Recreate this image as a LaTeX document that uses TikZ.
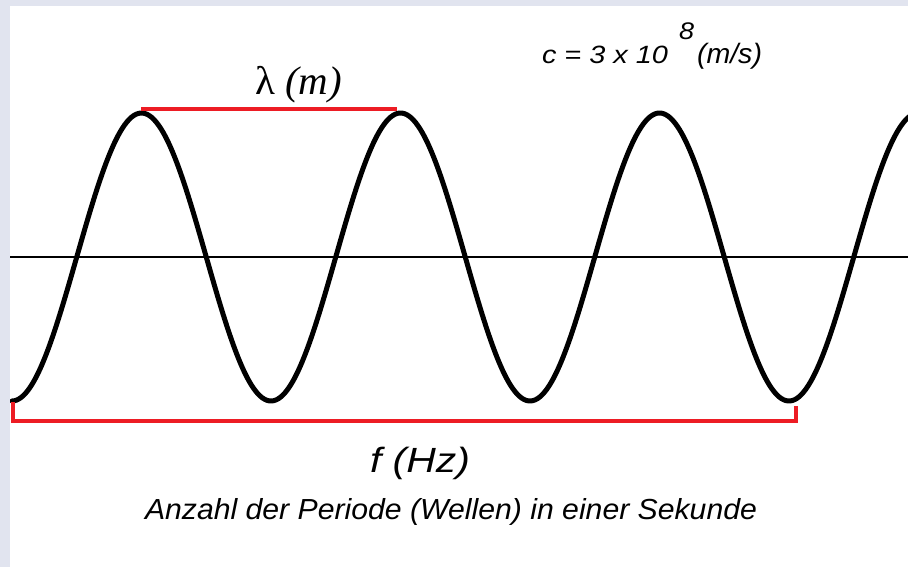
\documentclass[tikz,border=0pt]{standalone}
\usepackage{fontspec}
\setmainfont{Liberation Sans}
\newfontfamily\serifx{Liberation Serif}
\usepackage{graphicx}
\definecolor{frame}{HTML}{E1E4EF}
\definecolor{wred}{HTML}{ED1C24}
\newcommand\wtext[3]{\resizebox{#1}{\height}{\fontsize{#2}{#2}\selectfont #3}}
\tikzset{
  lbl/.style={anchor=base west, inner sep=0pt, outer sep=0pt, text=black},
  wave/.style={line width=5pt, black, line join=round, line cap=round},
  axisline/.style={line width=2pt, black},
  redline/.style={line width=3.5pt, wred, line join=miter}
}
\begin{document}
\begin{tikzpicture}[x=1pt, y=-1pt]
\useasboundingbox (0,0) rectangle (908,567);
\fill[frame] (0,0) rectangle (908,567);
\fill[white] (10,6) rectangle (908,567);
% axis
\coordinate (axL) at (10,257);
\coordinate (axR) at (908,257);
\draw[axisline] (axL) -- (axR);
% wave
\begin{scope}
\clip (10,6) rectangle (908,567);
\draw[wave] plot[domain=12:912, samples=400, smooth] (\x, {257+144*cos(1.389961*(\x-12))});
\end{scope}
% lambda bracket
\coordinate (lamA) at (141,109);
\coordinate (lamB) at (397,109);
\draw[redline] (lamA) -- (lamB);
% frequency bracket
\coordinate (fA) at (13,402);
\coordinate (fB) at (13,421);
\coordinate (fC) at (796,421);
\coordinate (fD) at (796,406);
\draw[redline] (fA) -- (fB) -- (fC) -- (fD);
% labels
\node[lbl] (lam) at (255,95) {\wtext{87pt}{40}{\serifx λ \itshape (m)}};
\node[lbl] (c1) at (542,64) {\wtext{126pt}{25}{\itshape c = 3 x 10}};
\node[lbl] (c2) at (679,40) {\wtext{15pt}{24}{\itshape 8}};
\node[lbl] (c3) at (697,64) {\wtext{65pt}{28}{\itshape (m/s)}};
\node[lbl] (f) at (370,472) {\wtext{100pt}{35}{\itshape f (Hz)}};
\node[lbl] (anz) at (145,519) {\wtext{612pt}{29}{\itshape Anzahl der Periode (Wellen) in einer Sekunde}};
\end{tikzpicture}
\end{document}
